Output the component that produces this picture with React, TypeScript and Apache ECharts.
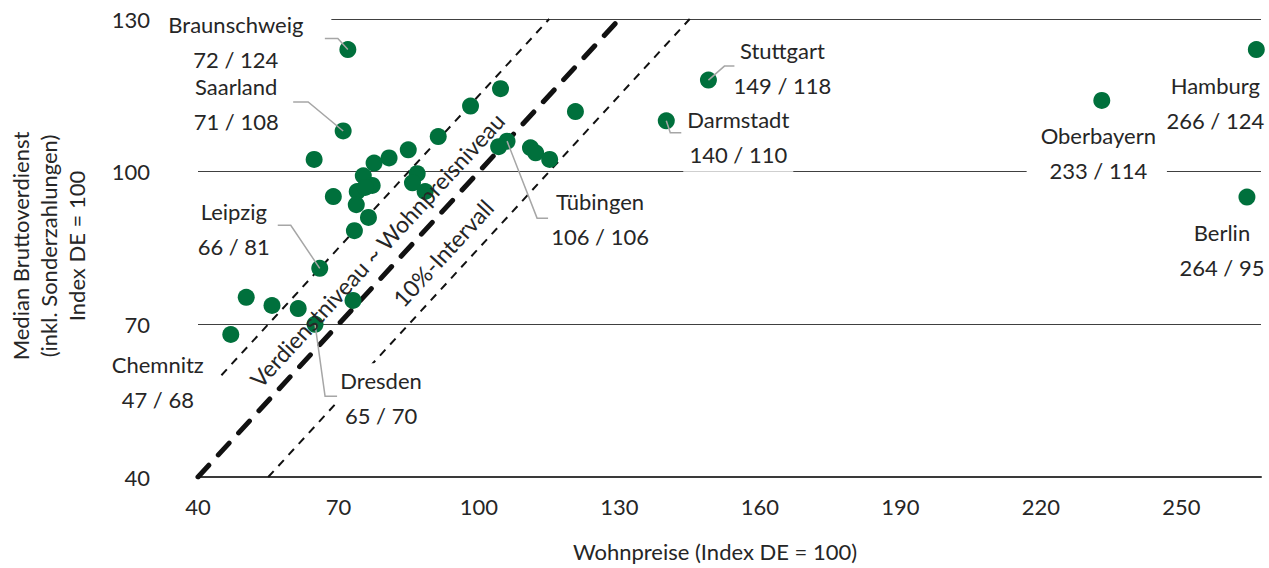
import React, { useEffect, useRef } from "react";
import * as echarts from "echarts";

// ---- axis ticks ----
const xTicks = [40, 70, 100, 130, 160, 190, 220, 250];
const yTicks = [40, 70, 100, 130];

// ---- labelled regions ----
const labeledNames = [
  "Braunschweig",
  "Saarland",
  "Leipzig",
  "Chemnitz",
  "Dresden",
  "Tübingen",
  "Stuttgart",
  "Darmstadt",
  "Oberbayern",
  "Hamburg",
  "Berlin",
];
const labeledX = [72, 71, 66, 47, 65, 106, 149, 140, 233, 266, 264];
const labeledY = [124, 108, 81, 68, 70, 106, 118, 110, 114, 124, 95];

// ---- other (unlabelled) regions ----
const otherX = [
  64.8, 98.2, 104.6, 120.6, 91.3, 104.2, 111.0, 112.1, 115.1, 84.9, 80.8, 77.6, 75.3, 86.8,
  85.8, 88.5, 77.2, 74.0, 75.7, 68.9, 73.8, 76.4, 73.4, 50.3, 55.8, 61.4, 73.1,
];
const otherY = [
  102.4, 112.9, 116.3, 111.8, 106.9, 104.9, 104.7, 103.7, 102.4, 104.3, 102.7, 101.7, 99.2, 99.6,
  97.8, 96.1, 97.3, 96.1, 96.9, 95.1, 93.5, 91.0, 88.4, 75.3, 73.7, 73.1, 74.7,
];

// ---- reference lines (data coordinates) ----
const parityLine = [
  [40, 40],
  [130, 130],
];
const upperBand = [
  [45, 60],
  [115, 130],
];
const lowerBand = [
  [55, 40],
  [145, 130],
];

// ---- layout / style helpers (pixel offsets from the dot) ----
const labelOffsets: number[][] = [
  [-100, -8],
  [-107, -27],
  [-86, -39],
  [-73, 47],
  [66, 74],
  [93, 78],
  [74, -12],
  [72, 16],
  [-5, 53],
  [-41, 53],
  [-25, 53],
];
const labelPadding: number[][] = [
  [0, 28, 0, 4],
  [0, 4],
  [0, 4],
  [0, 4],
  [0, 4],
  [0, 2],
  [0, 4],
  [0, 4],
  [0, 11, 0, 14],
  [0, 4],
  [0, 4],
];
const leaderOffsets: (number[][] | null)[] = [
  [[-23, -11], [-10, -11], [0, 0]],
  [[-50, -29], [-35, -29], [0, 0]],
  [[-42, -43], [-29, -43], [0, 0]],
  null,
  [[0, 0], [10, 72], [22, 72]],
  [[0, 0], [30, 77], [41, 77]],
  [[0, 0], [16, -14], [26, -14]],
  [[0, 0], [4, 12], [15, 12]],
  null,
  null,
  null,
];

const FONT = "Lato";
const TEXT = "#262626";
const GREEN = "#00703c";

export default function App() {
  const ref = useRef<HTMLDivElement>(null);

  useEffect(() => {
    document.body.style.margin = "0";
    if (!ref.current) return;
    const chart = echarts.init(ref.current, undefined, { renderer: "svg" });

    const labeledData = labeledNames.map((n, i) => ({
      name: n,
      value: [labeledX[i], labeledY[i]],
      label: {
        show: true,
        position: "inside",
        align: "center",
        verticalAlign: "middle",
        offset: labelOffsets[i],
        backgroundColor: "#ffffff",
        padding: labelPadding[i],
        formatter: `{n|${n}}\n{v|${labeledX[i]} / ${labeledY[i]}}`,
        rich: {
          n: { fontFamily: FONT, fontSize: 22, color: TEXT, lineHeight: 35, align: "center" },
          v: { fontFamily: FONT, fontSize: 22, color: TEXT, lineHeight: 35, align: "center" },
        },
      },
    }));

    const angle = (47.4 * Math.PI) / 180;

    chart.setOption({
      animation: false,
      grid: { left: 198, right: 8, top: 19, bottom: 91, containLabel: false, outerBoundsMode: "none" },
      xAxis: {
        type: "value",
        min: 40,
        max: 267,
        axisLine: { show: true, lineStyle: { color: "#3a3a3a", width: 2 } },
        axisTick: { show: false, customValues: xTicks },
        splitLine: { show: false },
        axisLabel: { customValues: xTicks, margin: 18, fontSize: 22, fontFamily: FONT, color: TEXT },
      },
      yAxis: {
        type: "value",
        min: 40,
        max: 130,
        axisLine: { show: false },
        axisTick: { show: false, customValues: yTicks },
        splitLine: { show: true, lineStyle: { color: "#404040", width: 1 } },
        axisLabel: { customValues: yTicks, margin: 48, fontSize: 22, fontFamily: FONT, color: TEXT },
      },
      series: [
        {
          type: "line",
          data: upperBand,
          symbol: "none",
          z: 1,
          silent: true,
          lineStyle: { color: "#111", width: 2, type: [8, 7] },
        },
        {
          type: "line",
          data: lowerBand,
          symbol: "none",
          z: 1,
          silent: true,
          lineStyle: { color: "#111", width: 2, type: [8, 7] },
        },
        {
          type: "line",
          data: parityLine,
          symbol: "none",
          z: 1,
          silent: true,
          lineStyle: { color: "#111", width: 5, type: [16, 14], cap: "round" },
        },
        {
          type: "scatter",
          data: otherX.map((x, i) => [x, otherY[i]]),
          symbolSize: 17,
          itemStyle: { color: GREEN, opacity: 1 },
          z: 3,
        },
        {
          type: "scatter",
          data: labeledData,
          symbolSize: 17,
          itemStyle: { color: GREEN, opacity: 1 },
          z: 3,
        },
        {
          type: "custom",
          data: labeledX.map((x, i) => [x, labeledY[i], i]),
          z: 6,
          silent: true,
          renderItem: (params: any, api: any) => {
            const i = api.value(2);
            const pts = leaderOffsets[i];
            if (!pts) return null;
            const c = api.coord([api.value(0), api.value(1)]);
            return {
              type: "polyline",
              shape: { points: pts.map((p) => [c[0] + p[0], c[1] + p[1]]) },
              style: { stroke: "#a6a6a6", lineWidth: 1.5, fill: null },
            };
          },
        },
      ],
      graphic: [
        {
          type: "text",
          x: 715,
          y: 551,
          style: {
            text: "Wohnpreise (Index DE = 100)",
            fontFamily: FONT,
            fontSize: 22,
            fill: TEXT,
            align: "center",
            verticalAlign: "middle",
          },
        },
        {
          type: "text",
          x: 48,
          y: 246,
          rotation: Math.PI / 2,
          style: {
            text: "Median Bruttoverdienst\n(inkl. Sonderzahlungen)\nIndex DE = 100",
            fontFamily: FONT,
            fontSize: 22,
            lineHeight: 28,
            fill: TEXT,
            align: "center",
            verticalAlign: "middle",
          },
        },
        {
          type: "text",
          x: 377,
          y: 250,
          rotation: angle,
          z: 10,
          style: {
            text: "Verdienstniveau ~ Wohnpreisniveau",
            fontFamily: FONT,
            fontSize: 23,
            fill: TEXT,
            align: "center",
            verticalAlign: "middle",
          },
        },
        {
          type: "text",
          x: 443,
          y: 253,
          rotation: angle,
          z: 10,
          style: {
            text: "10%-Intervall",
            fontFamily: FONT,
            fontSize: 23,
            fill: TEXT,
            align: "center",
            verticalAlign: "middle",
          },
        },
      ],
    });

    return () => chart.dispose();
  }, []);

  return <div ref={ref} style={{ width: 1269, height: 568 }} />;
}
